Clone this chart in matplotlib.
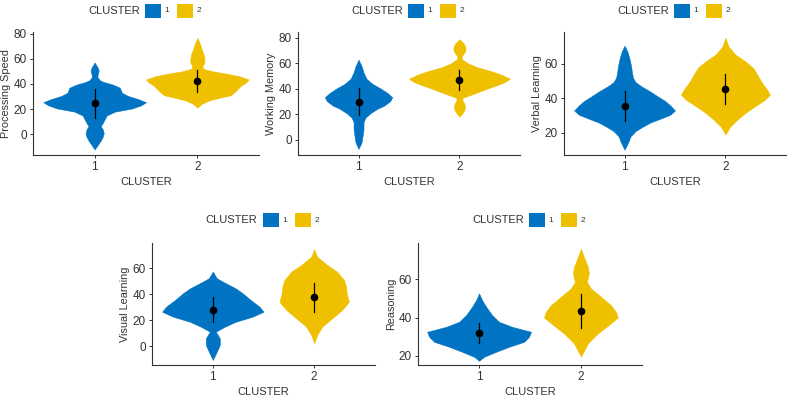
import matplotlib.pyplot as plt
from matplotlib.patches import Rectangle

plt.rcParams['font.family'] = ['Liberation Sans', 'DejaVu Sans']

clusters = ['1', '2']
colors = ['#0073C2', '#EFC000']

# violin outlines: score level and density (half width)
ps_c1_y = [57, 53, 50.5, 47.5, 45.5, 43, 41.5, 39.5, 37, 33, 30.5, 28, 25.5, 23, 20.5, 18, 15, 12, 9, 6.5, 4, 1, -2, -5, -8.5, -12]
ps_c1_d = [0, 3, 4, 3, 2.7, 5, 9, 18, 25, 27, 33, 43, 51, 46, 37, 20, 12, 10, 8, 6, 8, 9, 8, 6, 3, 0]
ps_c2_y = [76.5, 72, 68, 64, 60, 57, 54, 52, 50, 48, 46, 43.5, 41, 38.5, 36, 33.5, 31, 29, 27, 24.5, 21.3]
ps_c2_d = [0, 2.5, 4, 6, 7, 7, 5, 6, 15, 30, 42, 51, 48, 43, 40, 37, 33, 22, 12, 5, 0]
ps_mean = [24.5, 42.6]
ps_sd = [11.3, 8.7]

wm_c1_y = [63, 58, 53, 48, 44, 40.5, 37, 33.5, 30.5, 27, 24.5, 21, 17.5, 14, 8, 3, -2, -7]
wm_c1_d = [0, 3, 5, 8, 14, 22, 29, 34, 32, 26, 19, 12, 7, 5, 5, 4, 3, 0]
wm_c2_y = [79, 76, 73, 70, 67.5, 65.5, 63, 60, 57, 54, 51, 48, 45.5, 43, 40, 37, 35, 33, 31, 28.5, 26, 23.5, 21, 18.3]
wm_c2_d = [0, 4, 6, 6, 4, 2, 3, 9, 18, 32, 43, 51, 46, 38, 27, 17, 10, 3, 3, 5, 5.5, 5, 3, 0]
wm_mean = [30.0, 47.0]
wm_sd = [10.5, 8.0]

vl_c1_y = [70.6, 67, 63, 59, 55, 52, 49.5, 47, 44, 41, 38.5, 36, 33, 30.5, 28, 26, 23.5, 21, 18, 15, 12.5, 10.3]
vl_c1_d = [0, 3, 5, 6.5, 7.5, 8.5, 11, 17, 26, 34, 41, 46, 51, 46, 35, 26, 18, 11, 6, 4, 2, 0]
vl_c2_y = [75.1, 70.2, 65.4, 61.5, 57.7, 52.9, 49, 45.1, 42.2, 39.3, 35.5, 31.6, 27.7, 23.9, 19]
vl_c2_d = [0, 3, 10, 20, 28, 33, 37, 42, 45, 40, 30, 20, 12, 5, 0]
vl_mean = [35.8, 45.6]
vl_sd = [8.7, 8.6]

vis_c1_y = [57.3, 52.2, 48.4, 44.5, 40.7, 35.6, 30.4, 26.6, 22.8, 18.9, 15.1, 11.3, 6.2, 1.1, -4, -10.4]
vis_c1_d = [0, 4, 13, 23, 30, 38, 47, 51, 40, 23, 12, 3, 7, 7, 4, 0]
vis_c2_y = [74.4, 68.7, 62.4, 57.3, 50.9, 45.8, 39.4, 34.3, 27.9, 21.5, 15.1, 8.7, 2.4]
vis_c2_d = [0, 3, 13, 23, 30, 32, 33, 35, 28, 18, 8, 3, 0]
vis_mean = [28.0, 37.5]
vis_sd = [9.5, 10.9]

rs_c1_y = [52.6, 49.1, 45.7, 41.3, 37.8, 35.2, 32.6, 30, 27.4, 24.8, 22.2, 19.6, 17.5]
rs_c1_d = [0, 3, 7, 13, 20, 33, 52, 50, 45, 30, 17, 5, 0]
rs_c2_y = [75.9, 71.6, 66.4, 63, 58.6, 55.2, 50.9, 46.5, 43.1, 40.1, 36.2, 31.8, 26.6, 19.7]
rs_c2_d = [0, 3, 7, 8, 6, 10, 20, 30, 35, 37, 28, 17, 7, 0]
rs_mean = [32.0, 43.4]
rs_sd = [5.2, 8.7]

# panel boxes in pixels (x0, x1, ytop, ybottom)
panels = [
    ('Processing Speed', [(ps_c1_y, ps_c1_d), (ps_c2_y, ps_c2_d)], ps_mean, ps_sd, (-16.4, 81.2), [0, 20, 40, 60, 80], (33, 259, 32, 155)),
    ('Working Memory', [(wm_c1_y, wm_c1_d), (wm_c2_y, wm_c2_d)], wm_mean, wm_sd, (-11.8, 84.7), [0, 20, 40, 60, 80], (298, 520, 32, 155)),
    ('Verbal Learning', [(vl_c1_y, vl_c1_d), (vl_c2_y, vl_c2_d)], vl_mean, vl_sd, (7.2, 78.5), [20, 40, 60], (564, 786, 32, 155)),
    ('Visual Learning', [(vis_c1_y, vis_c1_d), (vis_c2_y, vis_c2_d)], vis_mean, vis_sd, (-14.25, 79.25), [0, 20, 40, 60], (152, 375, 243, 365)),
    ('Reasoning', [(rs_c1_y, rs_c1_d), (rs_c2_y, rs_c2_d)], rs_mean, rs_sd, (15.3, 78.9), [20, 40, 60], (418, 642, 243, 365)),
]

W, H = 789, 396
fig = plt.figure(figsize=(W / 100, H / 100), dpi=100)
dens_scale = 0.5 / 51
text_col = '#333333'


def add_legend(cx, cy):
    fy = 1 - cy / H
    fig.text((cx - 6) / W, fy, 'CLUSTER', ha='right', va='center', fontsize=8, color=text_col)
    for i, (lab, col) in enumerate(zip(clusters, colors)):
        x0 = cx - 1 + i * 32
        fig.add_artist(Rectangle((x0 / W, 1 - (cy + 7) / H), 16 / W, 14 / H,
                                 transform=fig.transFigure, color=col, lw=0))
        fig.text((x0 + 22) / W, fy, lab, ha='center', va='center', fontsize=6, color=text_col)


for label, outlines, means, sds, ylim, yticks, box in panels:
    x0, x1, yt, yb = box
    ax = fig.add_axes([x0 / W, 1 - yb / H, (x1 - x0) / W, (yb - yt) / H])
    for i, ((ys, ds), col) in enumerate(zip(outlines, colors)):
        pos = i + 1
        hw = [d * dens_scale for d in ds]
        ax.fill_betweenx(ys, [pos - h for h in hw], [pos + h for h in hw],
                         color=col, lw=0.4, zorder=2)
        ax.plot([pos, pos], [means[i] - sds[i], means[i] + sds[i]], color='black', lw=0.9, zorder=3)
        ax.plot(pos, means[i], 'o', color='black', ms=4.5, zorder=4)
    ax.set_xlim(0.4, 2.6)
    ax.set_ylim(*ylim)
    ax.set_xticks([1, 2])
    ax.set_xticklabels(clusters)
    ax.set_yticks(yticks)
    ax.set_xlabel('CLUSTER', fontsize=8, color=text_col, labelpad=3)
    ax.set_ylabel(label, fontsize=7.8, color=text_col, labelpad=2)
    ax.tick_params(labelsize=8.5, labelcolor=text_col, color=text_col, length=2.5, width=0.7, pad=2)
    for side in ['top', 'right']:
        ax.spines[side].set_visible(False)
    for side in ['left', 'bottom']:
        ax.spines[side].set_color(text_col)
        ax.spines[side].set_linewidth(0.8)
    add_legend((x0 + x1) / 2, 11 if yt < 100 else 220)

plt.savefig('out.png', dpi=100)
